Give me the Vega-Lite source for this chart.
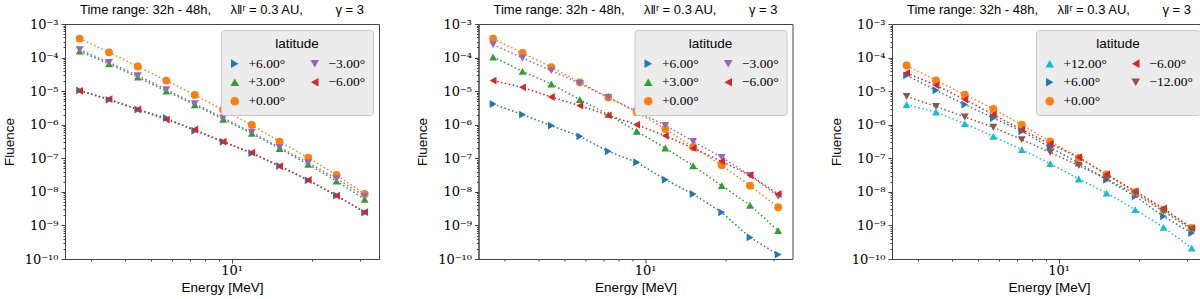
{
"$schema": "https://vega.github.io/schema/vega-lite/v6.json",
"padding": {"left": 1, "top": 3, "right": 1, "bottom": 1},
"background": "white",
"datasets": {
"p1": [
{"E":2.72,"lat":"+6.00°","F":1.05e-5},{"E":3.50,"lat":"+6.00°","F":5.5e-6},{"E":4.48,"lat":"+6.00°","F":2.85e-6},{"E":5.72,"lat":"+6.00°","F":1.58e-6},{"E":7.30,"lat":"+6.00°","F":6.6e-7},{"E":9.31,"lat":"+6.00°","F":3.1e-7},{"E":11.9,"lat":"+6.00°","F":1.42e-7},{"E":15.1,"lat":"+6.00°","F":5.9e-8},{"E":19.3,"lat":"+6.00°","F":2.2e-8},{"E":24.6,"lat":"+6.00°","F":7.8e-9},{"E":31.3,"lat":"+6.00°","F":2.4e-9},
{"E":2.72,"lat":"+3.00°","F":1.55e-4},{"E":3.50,"lat":"+3.00°","F":6.5e-5},{"E":4.48,"lat":"+3.00°","F":2.6e-5},{"E":5.72,"lat":"+3.00°","F":1.0e-5},{"E":7.30,"lat":"+3.00°","F":3.9e-6},{"E":9.31,"lat":"+3.00°","F":1.45e-6},{"E":11.9,"lat":"+3.00°","F":5.5e-7},{"E":15.1,"lat":"+3.00°","F":1.95e-7},{"E":19.3,"lat":"+3.00°","F":6.6e-8},{"E":24.6,"lat":"+3.00°","F":2.1e-8},{"E":31.3,"lat":"+3.00°","F":6.0e-9},
{"E":2.72,"lat":"+0.00°","F":3.67e-4},{"E":3.50,"lat":"+0.00°","F":1.43e-4},{"E":4.48,"lat":"+0.00°","F":5.4e-5},{"E":5.72,"lat":"+0.00°","F":2.06e-5},{"E":7.30,"lat":"+0.00°","F":7.7e-6},{"E":9.31,"lat":"+0.00°","F":2.74e-6},{"E":11.9,"lat":"+0.00°","F":9.8e-7},{"E":15.1,"lat":"+0.00°","F":3.14e-7},{"E":19.3,"lat":"+0.00°","F":1.05e-7},{"E":24.6,"lat":"+0.00°","F":3.18e-8},{"E":31.3,"lat":"+0.00°","F":8.6e-9},
{"E":2.72,"lat":"−3.00°","F":1.73e-4},{"E":3.50,"lat":"−3.00°","F":7.2e-5},{"E":4.48,"lat":"−3.00°","F":2.9e-5},{"E":5.72,"lat":"−3.00°","F":1.11e-5},{"E":7.30,"lat":"−3.00°","F":4.26e-6},{"E":9.31,"lat":"−3.00°","F":1.59e-6},{"E":11.9,"lat":"−3.00°","F":5.94e-7},{"E":15.1,"lat":"−3.00°","F":2.12e-7},{"E":19.3,"lat":"−3.00°","F":7.4e-8},{"E":24.6,"lat":"−3.00°","F":2.48e-8},{"E":31.3,"lat":"−3.00°","F":7.5e-9},
{"E":2.72,"lat":"−6.00°","F":1.02e-5},{"E":3.50,"lat":"−6.00°","F":5.8e-6},{"E":4.48,"lat":"−6.00°","F":2.85e-6},{"E":5.72,"lat":"−6.00°","F":1.42e-6},{"E":7.30,"lat":"−6.00°","F":7.2e-7},{"E":9.31,"lat":"−6.00°","F":3.1e-7},{"E":11.9,"lat":"−6.00°","F":1.47e-7},{"E":15.1,"lat":"−6.00°","F":5.8e-8},{"E":19.3,"lat":"−6.00°","F":2.25e-8},{"E":24.6,"lat":"−6.00°","F":7.7e-9},{"E":31.3,"lat":"−6.00°","F":2.5e-9}
],
"p2": [
{"E":2.72,"lat":"+6.00°","F":4.14e-6},{"E":3.50,"lat":"+6.00°","F":2.0e-6},{"E":4.48,"lat":"+6.00°","F":9.4e-7},{"E":5.72,"lat":"+6.00°","F":4.5e-7},{"E":7.30,"lat":"+6.00°","F":1.61e-7},{"E":9.31,"lat":"+6.00°","F":7.6e-8},{"E":11.9,"lat":"+6.00°","F":2.31e-8},{"E":15.1,"lat":"+6.00°","F":8.6e-9},{"E":19.3,"lat":"+6.00°","F":2.45e-9},{"E":24.6,"lat":"+6.00°","F":4.4e-10},{"E":31.3,"lat":"+6.00°","F":1.35e-10},
{"E":2.72,"lat":"+3.00°","F":1.04e-4},{"E":3.50,"lat":"+3.00°","F":3.9e-5},{"E":4.48,"lat":"+3.00°","F":1.63e-5},{"E":5.72,"lat":"+3.00°","F":5.6e-6},{"E":7.30,"lat":"+3.00°","F":2.0e-6},{"E":9.31,"lat":"+3.00°","F":6.4e-7},{"E":11.9,"lat":"+3.00°","F":2.02e-7},{"E":15.1,"lat":"+3.00°","F":6.0e-8},{"E":19.3,"lat":"+3.00°","F":1.53e-8},{"E":24.6,"lat":"+3.00°","F":4.0e-9},{"E":31.3,"lat":"+3.00°","F":7.0e-10},
{"E":2.72,"lat":"+0.00°","F":3.67e-4},{"E":3.50,"lat":"+0.00°","F":1.37e-4},{"E":4.48,"lat":"+0.00°","F":5.2e-5},{"E":5.72,"lat":"+0.00°","F":1.83e-5},{"E":7.30,"lat":"+0.00°","F":6.5e-6},{"E":9.31,"lat":"+0.00°","F":2.34e-6},{"E":11.9,"lat":"+0.00°","F":7.45e-7},{"E":15.1,"lat":"+0.00°","F":2.17e-7},{"E":19.3,"lat":"+0.00°","F":6.2e-8},{"E":24.6,"lat":"+0.00°","F":1.53e-8},{"E":31.3,"lat":"+0.00°","F":3.47e-9},
{"E":2.72,"lat":"−3.00°","F":2.43e-4},{"E":3.50,"lat":"−3.00°","F":9.7e-5},{"E":4.48,"lat":"−3.00°","F":4.1e-5},{"E":5.72,"lat":"−3.00°","F":1.71e-5},{"E":7.30,"lat":"−3.00°","F":6.5e-6},{"E":9.31,"lat":"−3.00°","F":2.5e-6},{"E":11.9,"lat":"−3.00°","F":9.6e-7},{"E":15.1,"lat":"−3.00°","F":3.2e-7},{"E":19.3,"lat":"−3.00°","F":1.07e-7},{"E":24.6,"lat":"−3.00°","F":3.1e-8},{"E":31.3,"lat":"−3.00°","F":7.4e-9},
{"E":2.72,"lat":"−6.00°","F":2.06e-5},{"E":3.50,"lat":"−6.00°","F":1.3e-5},{"E":4.48,"lat":"−6.00°","F":6.7e-6},{"E":5.72,"lat":"−6.00°","F":3.7e-6},{"E":7.30,"lat":"−6.00°","F":1.9e-6},{"E":9.31,"lat":"−6.00°","F":1.0e-6},{"E":11.9,"lat":"−6.00°","F":4.7e-7},{"E":15.1,"lat":"−6.00°","F":2.0e-7},{"E":19.3,"lat":"−6.00°","F":8.1e-8},{"E":24.6,"lat":"−6.00°","F":3.1e-8},{"E":31.3,"lat":"−6.00°","F":8.6e-9}
],
"p3": [
{"E":2.72,"lat":"+12.00°","F":3.97e-6},{"E":3.50,"lat":"+12.00°","F":2.39e-6},{"E":4.48,"lat":"+12.00°","F":1.08e-6},{"E":5.72,"lat":"+12.00°","F":4.5e-7},{"E":7.30,"lat":"+12.00°","F":1.81e-7},{"E":9.31,"lat":"+12.00°","F":6.9e-8},{"E":11.9,"lat":"+12.00°","F":2.42e-8},{"E":15.1,"lat":"+12.00°","F":9.2e-9},{"E":19.3,"lat":"+12.00°","F":2.96e-9},{"E":24.6,"lat":"+12.00°","F":8.8e-10},{"E":31.3,"lat":"+12.00°","F":2.13e-10},
{"E":2.72,"lat":"+6.00°","F":2.96e-5},{"E":3.50,"lat":"+6.00°","F":1.06e-5},{"E":4.48,"lat":"+6.00°","F":3.97e-6},{"E":5.72,"lat":"+6.00°","F":1.59e-6},{"E":7.30,"lat":"+6.00°","F":6.4e-7},{"E":9.31,"lat":"+6.00°","F":2.1e-7},{"E":11.9,"lat":"+6.00°","F":7.2e-8},{"E":15.1,"lat":"+6.00°","F":2.3e-8},{"E":19.3,"lat":"+6.00°","F":7.4e-9},{"E":24.6,"lat":"+6.00°","F":1.87e-9},{"E":31.3,"lat":"+6.00°","F":5.9e-10},
{"E":2.72,"lat":"+0.00°","F":5.8e-5},{"E":3.50,"lat":"+0.00°","F":2.1e-5},{"E":4.48,"lat":"+0.00°","F":7.9e-6},{"E":5.72,"lat":"+0.00°","F":2.94e-6},{"E":7.30,"lat":"+0.00°","F":1.0e-6},{"E":9.31,"lat":"+0.00°","F":3.2e-7},{"E":11.9,"lat":"+0.00°","F":1.02e-7},{"E":15.1,"lat":"+0.00°","F":3.3e-8},{"E":19.3,"lat":"+0.00°","F":9.7e-9},{"E":24.6,"lat":"+0.00°","F":2.96e-9},{"E":31.3,"lat":"+0.00°","F":8.4e-10},
{"E":2.72,"lat":"−6.00°","F":3.47e-5},{"E":3.50,"lat":"−6.00°","F":1.49e-5},{"E":4.48,"lat":"−6.00°","F":5.6e-6},{"E":5.72,"lat":"−6.00°","F":2.0e-6},{"E":7.30,"lat":"−6.00°","F":7.1e-7},{"E":9.31,"lat":"−6.00°","F":2.67e-7},{"E":11.9,"lat":"−6.00°","F":1.07e-7},{"E":15.1,"lat":"−6.00°","F":3.3e-8},{"E":19.3,"lat":"−6.00°","F":1.05e-8},{"E":24.6,"lat":"−6.00°","F":3.2e-9},{"E":31.3,"lat":"−6.00°","F":8.3e-10},
{"E":2.72,"lat":"−12.00°","F":7.0e-6},{"E":3.50,"lat":"−12.00°","F":3.5e-6},{"E":4.48,"lat":"−12.00°","F":1.7e-6},{"E":5.72,"lat":"−12.00°","F":8.4e-7},{"E":7.30,"lat":"−12.00°","F":3.6e-7},{"E":9.31,"lat":"−12.00°","F":1.51e-7},{"E":11.9,"lat":"−12.00°","F":6.05e-8},{"E":15.1,"lat":"−12.00°","F":2.42e-8},{"E":19.3,"lat":"−12.00°","F":8.9e-9},{"E":24.6,"lat":"−12.00°","F":2.64e-9},{"E":31.3,"lat":"−12.00°","F":7.5e-10}
]
},
"spacing": 99.5,
"bounds": "flush",
"hconcat": [
{
"width": 314, "height": 235,
"title": {"text": "Time range: 32h - 48h,\u2003\u2002λ‖ʳ = 0.3 AU,\u2003\u2003\u2002γ = 3"},
"data": {"name": "p1"},
"encoding": {
"x": {"field": "E", "type": "quantitative", "title": "Energy [MeV]", "scale": {"type": "log", "domain": [2.4, 35.4], "nice": false}, "axis": {"values": [3,4,5,6,7,8,9,10,20,30], "labelExpr": "datum.value == 10 ? '10¹' : ''", "tickSize": {"condition": {"test": "datum.value == 10", "value": 4}, "value": 2}}},
"y": {"field": "F", "type": "quantitative", "title": "Fluence", "scale": {"type": "log", "domain": [1e-10, 1e-3], "nice": false}, "axis": {"values": [1e-10,2e-10,3e-10,4e-10,5e-10,6e-10,7e-10,8e-10,9e-10,1e-9,2e-9,3e-9,4e-9,5e-9,6e-9,7e-9,8e-9,9e-9,1e-8,2e-8,3e-8,4e-8,5e-8,6e-8,7e-8,8e-8,9e-8,1e-7,2e-7,3e-7,4e-7,5e-7,6e-7,7e-7,8e-7,9e-7,1e-6,2e-6,3e-6,4e-6,5e-6,6e-6,7e-6,8e-6,9e-6,1e-5,2e-5,3e-5,4e-5,5e-5,6e-5,7e-5,8e-5,9e-5,1e-4,2e-4,3e-4,4e-4,5e-4,6e-4,7e-4,8e-4,9e-4,1e-3], "labelExpr": "abs(log(datum.value)/LN10 - round(log(datum.value)/LN10)) < 0.01 ? ['10⁻¹⁰','10⁻⁹','10⁻⁸','10⁻⁷','10⁻⁶','10⁻⁵','10⁻⁴','10⁻³'][round(log(datum.value)/LN10)+10] : ''", "tickSize": {"condition": {"test": "abs(log(datum.value)/LN10 - round(log(datum.value)/LN10)) < 0.01", "value": 4}, "value": 2}}}
},
"layer": [
{"mark": {"type": "line", "strokeDash": [1.5, 2.5], "strokeWidth": 1.5}, "encoding": {"color": {"field": "lat", "type": "nominal", "title": "latitude", "scale": {"domain": ["+6.00°","+3.00°","+0.00°","−3.00°","−6.00°"], "range": ["#1f77b4","#2ca02c","#ff7f0e","#9467bd","#d62728"]}}}},
{"mark": {"type": "point", "filled": true, "size": 62, "opacity": 1}, "encoding": {
"color": {"field": "lat", "type": "nominal", "title": "latitude", "legend": {"orient": "top-right", "columns": 2}},
"shape": {"field": "lat", "type": "nominal", "title": "latitude", "scale": {"domain": ["+6.00°","+3.00°","+0.00°","−3.00°","−6.00°"], "range": ["triangle-right","triangle-up","circle","triangle-down","triangle-left"]}, "legend": {"orient": "top-right", "columns": 2}}}}
]
},
{
"width": 314, "height": 235,
"title": {"text": "Time range: 32h - 48h,\u2003\u2002λ‖ʳ = 0.3 AU,\u2003\u2003\u2002γ = 3"},
"data": {"name": "p2"},
"encoding": {
"x": {"field": "E", "type": "quantitative", "title": "Energy [MeV]", "scale": {"type": "log", "domain": [2.4, 35.4], "nice": false}, "axis": {"values": [3,4,5,6,7,8,9,10,20,30], "labelExpr": "datum.value == 10 ? '10¹' : ''", "tickSize": {"condition": {"test": "datum.value == 10", "value": 4}, "value": 2}}},
"y": {"field": "F", "type": "quantitative", "title": "Fluence", "scale": {"type": "log", "domain": [1e-10, 1e-3], "nice": false}, "axis": {"values": [1e-10,2e-10,3e-10,4e-10,5e-10,6e-10,7e-10,8e-10,9e-10,1e-9,2e-9,3e-9,4e-9,5e-9,6e-9,7e-9,8e-9,9e-9,1e-8,2e-8,3e-8,4e-8,5e-8,6e-8,7e-8,8e-8,9e-8,1e-7,2e-7,3e-7,4e-7,5e-7,6e-7,7e-7,8e-7,9e-7,1e-6,2e-6,3e-6,4e-6,5e-6,6e-6,7e-6,8e-6,9e-6,1e-5,2e-5,3e-5,4e-5,5e-5,6e-5,7e-5,8e-5,9e-5,1e-4,2e-4,3e-4,4e-4,5e-4,6e-4,7e-4,8e-4,9e-4,1e-3], "labelExpr": "abs(log(datum.value)/LN10 - round(log(datum.value)/LN10)) < 0.01 ? ['10⁻¹⁰','10⁻⁹','10⁻⁸','10⁻⁷','10⁻⁶','10⁻⁵','10⁻⁴','10⁻³'][round(log(datum.value)/LN10)+10] : ''", "tickSize": {"condition": {"test": "abs(log(datum.value)/LN10 - round(log(datum.value)/LN10)) < 0.01", "value": 4}, "value": 2}}}
},
"layer": [
{"mark": {"type": "line", "strokeDash": [1.5, 2.5], "strokeWidth": 1.5}, "encoding": {"color": {"field": "lat", "type": "nominal", "title": "latitude", "scale": {"domain": ["+6.00°","+3.00°","+0.00°","−3.00°","−6.00°"], "range": ["#1f77b4","#2ca02c","#ff7f0e","#9467bd","#d62728"]}}}},
{"mark": {"type": "point", "filled": true, "size": 62, "opacity": 1}, "encoding": {
"color": {"field": "lat", "type": "nominal", "title": "latitude", "legend": {"orient": "top-right", "columns": 2}},
"shape": {"field": "lat", "type": "nominal", "title": "latitude", "scale": {"domain": ["+6.00°","+3.00°","+0.00°","−3.00°","−6.00°"], "range": ["triangle-right","triangle-up","circle","triangle-down","triangle-left"]}, "legend": {"orient": "top-right", "columns": 2}}}}
]
},
{
"width": 314, "height": 235,
"title": {"text": "Time range: 32h - 48h,\u2003\u2002λ‖ʳ = 0.3 AU,\u2003\u2003\u2002γ = 3"},
"data": {"name": "p3"},
"encoding": {
"x": {"field": "E", "type": "quantitative", "title": "Energy [MeV]", "scale": {"type": "log", "domain": [2.4, 35.4], "nice": false}, "axis": {"values": [3,4,5,6,7,8,9,10,20,30], "labelExpr": "datum.value == 10 ? '10¹' : ''", "tickSize": {"condition": {"test": "datum.value == 10", "value": 4}, "value": 2}}},
"y": {"field": "F", "type": "quantitative", "title": "Fluence", "scale": {"type": "log", "domain": [1e-10, 1e-3], "nice": false}, "axis": {"values": [1e-10,2e-10,3e-10,4e-10,5e-10,6e-10,7e-10,8e-10,9e-10,1e-9,2e-9,3e-9,4e-9,5e-9,6e-9,7e-9,8e-9,9e-9,1e-8,2e-8,3e-8,4e-8,5e-8,6e-8,7e-8,8e-8,9e-8,1e-7,2e-7,3e-7,4e-7,5e-7,6e-7,7e-7,8e-7,9e-7,1e-6,2e-6,3e-6,4e-6,5e-6,6e-6,7e-6,8e-6,9e-6,1e-5,2e-5,3e-5,4e-5,5e-5,6e-5,7e-5,8e-5,9e-5,1e-4,2e-4,3e-4,4e-4,5e-4,6e-4,7e-4,8e-4,9e-4,1e-3], "labelExpr": "abs(log(datum.value)/LN10 - round(log(datum.value)/LN10)) < 0.01 ? ['10⁻¹⁰','10⁻⁹','10⁻⁸','10⁻⁷','10⁻⁶','10⁻⁵','10⁻⁴','10⁻³'][round(log(datum.value)/LN10)+10] : ''", "tickSize": {"condition": {"test": "abs(log(datum.value)/LN10 - round(log(datum.value)/LN10)) < 0.01", "value": 4}, "value": 2}}}
},
"layer": [
{"mark": {"type": "line", "strokeDash": [1.5, 2.5], "strokeWidth": 1.5}, "encoding": {"color": {"field": "lat", "type": "nominal", "title": "latitude", "scale": {"domain": ["+12.00°","+6.00°","+0.00°","−6.00°","−12.00°"], "range": ["#17becf","#1f77b4","#ff7f0e","#d62728","#8c564b"]}}}},
{"mark": {"type": "point", "filled": true, "size": 62, "opacity": 1}, "encoding": {
"color": {"field": "lat", "type": "nominal", "title": "latitude", "legend": {"orient": "top-right", "columns": 2}},
"shape": {"field": "lat", "type": "nominal", "title": "latitude", "scale": {"domain": ["+12.00°","+6.00°","+0.00°","−6.00°","−12.00°"], "range": ["triangle-up","triangle-right","circle","triangle-left","triangle-down"]}, "legend": {"orient": "top-right", "columns": 2}}}}
]
}
],
"resolve": {"scale": {"color": "independent", "shape": "independent", "x": "independent", "y": "independent"}, "legend": {"color": "independent", "shape": "independent"}},
"config": {
"font": "Liberation Sans",
"view": {"stroke": "#444", "strokeWidth": 1},
"axis": {"domainColor": "#444", "tickColor": "#444", "labelFont": "DejaVu Serif", "labelFontSize": 13, "labelColor": "#000", "titleFont": "Liberation Sans", "titleFontSize": 13.5, "titleFontWeight": "normal", "titleColor": "#000", "grid": false, "labelOverlap": false, "labelFlush": false, "labelBound": false, "labelPadding": 3},
"axisX": {"titlePadding": 3, "labelPadding": 1},
"axisY": {"titlePadding": 8, "labelPadding": 3},
"legend": {"offset": 6, "fillColor": "#ececec", "strokeColor": "#c8c8c8", "cornerRadius": 3, "padding": 7, "titleFont": "Liberation Sans", "titleFontSize": 13.5, "titleFontWeight": "normal", "titleColor": "#000", "titleAnchor": "middle", "titlePadding": 6, "labelFont": "Liberation Serif", "labelFontSize": 13.5, "labelColor": "#000", "symbolSize": 75, "rowPadding": 4, "columnPadding": 22, "symbolStrokeWidth": 0, "labelOffset": 7},
"title": {"font": "Liberation Sans", "fontSize": 13, "fontWeight": "normal", "anchor": "middle", "offset": 1, "color": "#000"}
}
}
